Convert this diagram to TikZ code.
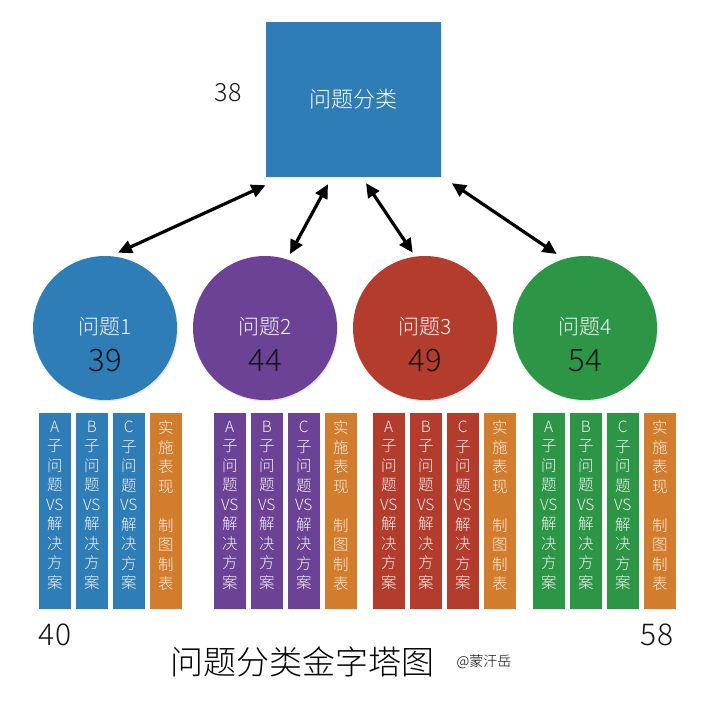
\documentclass[tikz,border=0pt]{standalone}
\usepackage{fontspec}
\setmainfont{Noto Sans CJK SC}[UprightFont={* Light}]
\usetikzlibrary{arrows.meta,shadows,calc}
\definecolor{cblue}{RGB}{46,125,182}
\definecolor{cpurple}{RGB}{108,66,150}
\definecolor{cred}{RGB}{180,60,44}
\definecolor{cgreen}{RGB}{44,150,70}
\definecolor{corange}{RGB}{210,124,46}
\definecolor{numcol}{RGB}{20,20,20}
\tikzset{
  topbox/.style={fill=cblue, minimum width=175pt, minimum height=155pt, inner sep=0pt,
     text=white, font={\fontsize{22}{26}\selectfont},
     drop shadow={opacity=0.2, shadow xshift=1pt, shadow yshift=-1.5pt}},
  qcircle/.style={circle, minimum size=144pt, inner sep=0pt,
     drop shadow={opacity=0.2, shadow xshift=1pt, shadow yshift=-1.5pt}},
  qlabel/.style={text=white!92!gray, font={\fontsize{21}{24}\selectfont}, inner sep=0pt},
  qnum/.style={text=numcol, font={\fontsize{31}{34}\selectfont}, inner sep=0pt},
  bignum/.style={text=numcol, font={\fontsize{30}{34}\selectfont}, inner sep=0pt},
  barbox/.style={minimum width=31.5pt, minimum height=196pt, inner sep=0pt,
     drop shadow={opacity=0.2, shadow xshift=0.8pt, shadow yshift=-1pt}},
  bartext/.style={align=center, text=white!90!gray, inner sep=0pt,
     font={\fontsize{15.5}{19.5}\selectfont}},
  orangetext/.style={align=center, text=white!88!orange, inner sep=0pt,
     font={\fontsize{15.5}{19.5}\selectfont}},
  biarrow/.style={line width=3.2pt, {Triangle[length=14pt,width=13pt]}-{Triangle[length=14pt,width=13pt]}},
}
\begin{document}
\begin{tikzpicture}[x=1pt,y=-1pt]
\useasboundingbox (0,0) rectangle (700,708);
\fill[white] (0,0) rectangle (700,708);

% top box
\node[topbox] (box) at (353.5,99.5) {问题分类};
\node[font={\fontsize{25}{28}\selectfont}, text=numcol, inner sep=0pt] (n38) at (228,93) {38};

% circles
\node[qcircle, fill=cblue]   (c1) at (105,328) {};
\node[qcircle, fill=cpurple] (c2) at (265,328) {};
\node[qcircle, fill=cred]    (c3) at (425,328) {};
\node[qcircle, fill=cgreen]  (c4) at (585,328) {};
\foreach \k/\num in {1/39,2/44,3/49,4/54}{
  \node[qlabel] (l\k) at ($(c\k.center)+(0,-1)$) {问题\k};
  \node[qnum] (n\k) at ($(c\k.center)+(0,33)$) {\num};
}

% arrows
\coordinate (a1t) at ($(box.south west)+(-0.3,8)$);
\coordinate (a1b) at ($(c1.center)+(13,-75.3)$);
\coordinate (a2t) at ($(box.south)+(-25.5,7)$);
\coordinate (a2b) at ($(c2.center)+(25,-74)$);
\coordinate (a3t) at ($(box.south)+(12.5,6)$);
\coordinate (a3b) at ($(c3.center)+(-12.3,-75.3)$);
\coordinate (a4t) at ($(box.south east)+(10.7,6)$);
\coordinate (a4b) at ($(c4.center)+(-28.3,-74)$);
\foreach \k in {1,2,3,4}{
  \draw[biarrow] (a\k b) -- (a\k t);
}

% bars
\foreach \g/\x/\col in {1/39/cblue, 2/214/cpurple, 3/373/cred, 4/533/cgreen}{
  \foreach \i/\l in {1/A,2/B,3/C}{
    \pgfmathsetmacro{\bx}{\x+(\i-1)*37+15.75}
    \node[barbox, fill=\col] (b\g\i) at (\bx,511) {};
    \node[bartext, anchor=north] (t\g\i) at ($(b\g\i.north)+(0,8)$)
      {\l\\子\\问\\题\\VS\\解\\决\\方\\案};
  }
  \pgfmathsetmacro{\ox}{\x+3*37+15.75}
  \node[barbox, fill=corange] (b\g4) at (\ox,511) {};
  \node[orangetext, anchor=north] (t\g4) at ($(b\g4.north)+(0,8)$)
    {实\\施\\表\\现\\~\\制\\图\\制\\表};
}

% bottom labels
\node[bignum] (n40) at (55,635) {40};
\node[bignum] (n58) at (657,635) {58};
\node[text=black, font={\fontsize{33}{36}\selectfont}, inner sep=0pt] (title) at (302,662) {问题分类金字塔图};
\node[text=black, font={\fontsize{14}{16}\selectfont}, inner sep=0pt] (author) at (484,662) {@蒙汗岳};
\end{tikzpicture}
\end{document}
